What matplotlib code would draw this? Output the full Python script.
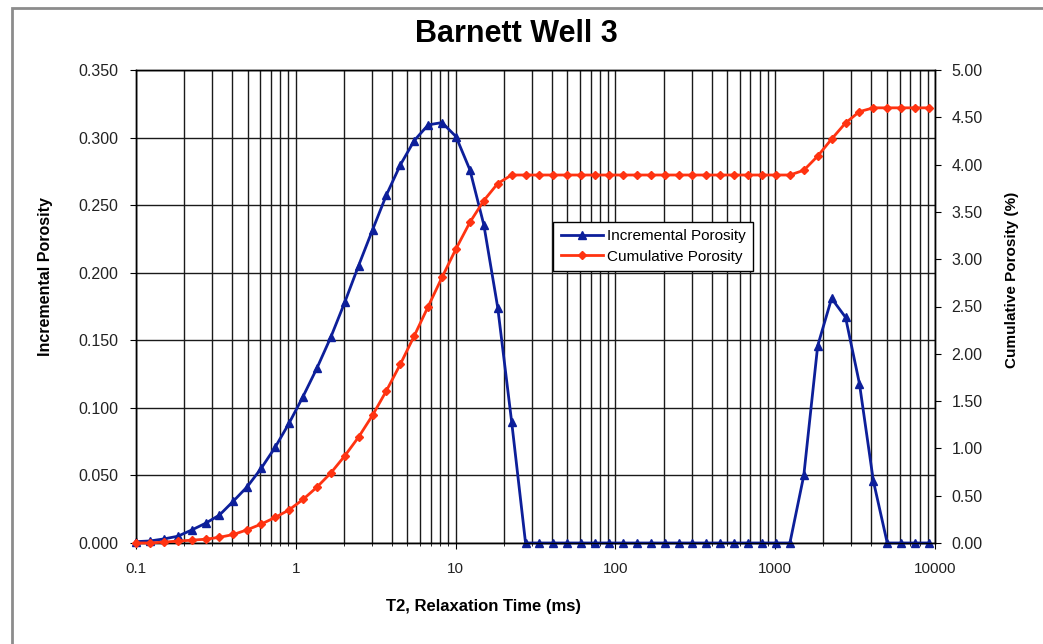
import matplotlib
matplotlib.use("Agg")
import matplotlib.pyplot as plt
from matplotlib.ticker import FixedLocator, LogLocator, FuncFormatter, NullFormatter
from matplotlib.patches import Rectangle

# T2 bins (ms)
t2 = [0.1, 0.1222, 0.1493, 0.1825, 0.2230, 0.2725, 0.3330, 0.4069, 0.4973, 0.6077,
      0.7425, 0.9072, 1.109, 1.355, 1.656, 2.023, 2.472, 3.021, 3.692, 4.511,
      5.512, 6.736, 8.231, 10.06, 12.29, 15.02, 18.35, 22.42, 27.40, 33.48,
      40.91, 49.99, 61.09, 74.65, 91.22, 111.5, 136.2, 166.4, 203.4, 248.5,
      303.7, 371.1, 453.5, 554.1, 677.1, 827.4, 1011, 1236, 1510, 1845,
      2254, 2755, 3366, 4113, 5026, 6142, 7505, 9172]

incremental = [0.001, 0.0015, 0.003, 0.005, 0.0096, 0.0146, 0.0207, 0.031, 0.0417, 0.0553,
               0.0708, 0.0886, 0.1083, 0.1293, 0.1523, 0.178, 0.2053, 0.2317, 0.2576, 0.2798,
               0.2978, 0.3094, 0.3111, 0.3007, 0.2761, 0.2354, 0.1742, 0.0898, 0.0, 0.0,
               0.0, 0.0, 0.0, 0.0, 0.0, 0.0, 0.0, 0.0, 0.0, 0.0,
               0.0, 0.0, 0.0, 0.0, 0.0, 0.0, 0.0, 0.0, 0.050, 0.146,
               0.181, 0.167, 0.118, 0.046, 0.0, 0.0, 0.0, 0.0]

cumulative = [0.00, 0.00, 0.01, 0.02, 0.03, 0.04, 0.06, 0.09, 0.14, 0.20,
              0.27, 0.35, 0.46, 0.59, 0.74, 0.92, 1.12, 1.35, 1.61, 1.89,
              2.19, 2.50, 2.81, 3.11, 3.39, 3.62, 3.80, 3.89, 3.89, 3.89,
              3.89, 3.89, 3.89, 3.89, 3.89, 3.89, 3.89, 3.89, 3.89, 3.89,
              3.89, 3.89, 3.89, 3.89, 3.89, 3.89, 3.89, 3.89, 3.94, 4.09,
              4.27, 4.44, 4.56, 4.60, 4.60, 4.60, 4.60, 4.60]

x_ticks = [0.1, 1, 10, 100, 1000, 10000]

plt.rcParams['font.family'] = ['Liberation Sans', 'DejaVu Sans']

W, H = 1043, 644
fig = plt.figure(figsize=(W / 100, H / 100), dpi=100)
fig.patches.append(Rectangle((12 / W, -0.1), 1.2, 1 - 8 / H + 0.1,
                             transform=fig.transFigure, fill=False,
                             edgecolor='#8c8c8c', linewidth=2))

ax = fig.add_axes([136 / W, 1 - 543 / H, 799 / W, 473 / H])
ax2 = ax.twinx()

ax.set_xscale('log')
ax.set_xlim(0.1, 10000)
ax.set_ylim(0, 0.35)
ax2.set_ylim(0, 5)

ax.xaxis.set_major_locator(FixedLocator(x_ticks))
ax.xaxis.set_major_formatter(FuncFormatter(lambda v, p: f'{v:g}'))
ax.xaxis.set_minor_locator(LogLocator(base=10, subs=range(2, 10)))
ax.xaxis.set_minor_formatter(NullFormatter())
ax.set_yticks([i * 0.05 for i in range(8)])
ax.yaxis.set_major_formatter(FuncFormatter(lambda v, p: f'{v:.3f}'))
ax2.set_yticks([i * 0.5 for i in range(11)])
ax2.yaxis.set_major_formatter(FuncFormatter(lambda v, p: f'{v:.2f}'))

ax.grid(True, which='both', axis='x', color='#1a1a1a', linewidth=1.0)
ax.grid(True, which='major', axis='y', color='#1a1a1a', linewidth=1.0)
ax.set_axisbelow(True)

for a in (ax, ax2):
    for s in a.spines.values():
        s.set_color('black')
        s.set_linewidth(1.0)
ax.tick_params(axis='y', which='major', labelsize=11.5, length=4, color='black',
               labelcolor='#222222', pad=9)
ax.tick_params(axis='x', which='major', labelsize=11, length=4, color='black',
               labelcolor='#222222', pad=10)
ax.tick_params(axis='x', which='minor', length=2)
ax2.tick_params(axis='y', labelsize=11.5, length=4, labelcolor='#222222', pad=8)

l1, = ax.plot(t2, incremental, color='#0d1f9a', linewidth=2, marker='^',
              markersize=6, label='Incremental Porosity', clip_on=False, zorder=4)
l2, = ax2.plot(t2, cumulative, color='#ff3311', linewidth=2, marker='D',
               markersize=4, label='Cumulative Porosity', clip_on=False, zorder=3)

leg = ax2.legend(handles=[l1, l2], loc='upper left', bbox_to_anchor=(0.522, 0.679),
                 borderaxespad=0, fontsize=11, frameon=True, fancybox=False,
                 edgecolor='black', framealpha=1, borderpad=0.5, labelspacing=0.4,
                 handlelength=2.8, handletextpad=0.2)
leg.get_frame().set_linewidth(1.0)
leg.set_zorder(10)

fig.text(516 / W, 1 - 34 / H, 'Barnett Well 3', ha='center', va='center',
         fontsize=22, fontweight='bold')
fig.text(484 / W, 1 - 606 / H, 'T2, Relaxation Time (ms)', ha='center', va='center',
         fontsize=12, fontweight='bold')
fig.text(46 / W, 1 - 277 / H, 'Incremental Porosity', ha='center', va='center',
         rotation=90, fontsize=11.5, fontweight='bold')
fig.text(1012 / W, 1 - 280 / H, 'Cumulative Porosity (%)', ha='center', va='center',
         rotation=90, fontsize=11, fontweight='bold')

fig.savefig('out.png', dpi=100)
